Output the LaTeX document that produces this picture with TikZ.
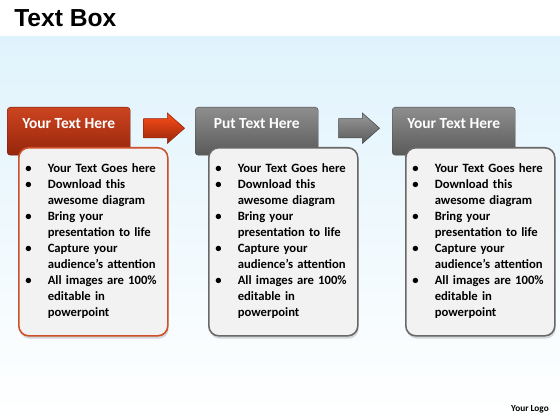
\documentclass[tikz,border=0pt]{standalone}
\usepackage{fontspec}
\setmainfont{Carlito}
\newfontfamily\titlefont{Liberation Sans}
\usepackage{enumitem}
\usetikzlibrary{positioning,shapes.arrows,shadows}

\definecolor{bgBlue}{HTML}{E0F3FC}
\definecolor{redTop}{HTML}{CC4420}
\definecolor{redBot}{HTML}{96260B}
\definecolor{redLine}{HTML}{CC5028}
\definecolor{greyTop}{HTML}{8E8E8E}
\definecolor{greyBot}{HTML}{5A5A5A}
\definecolor{greyLine}{HTML}{686868}
\definecolor{bodyFill}{HTML}{F2F2F2}

\setlist[itemize]{nosep, leftmargin=0.425cm, rightmargin=-0.3cm, labelsep=0.4cm, label=\textbullet}

% the same list goes in every box
\newcommand{\boxItems}{%
\begin{itemize}
\item Your Text Goes here
\item Download this\\ awesome diagram
\item Bring your\\ presentation to life
\item Capture your\\ audience’s attention
\item All images are 100\%\\ editable in\\ powerpoint
\end{itemize}\par\kern0.2cm}

\begin{document}
\begin{tikzpicture}[
		x=0.025cm, y=-0.025cm,
		every node/.style={inner sep=0pt},
		header/.style={anchor=north west, minimum width=3.075cm, minimum height=1.2cm,
				rounded corners=0.08cm, text=white, font=\fontsize{11}{12}\selectfont\bfseries,
				text height=0.2cm, text depth=0.35cm},
		redHeader/.style={header, top color=redTop, bottom color=redBot, draw=redBot!80!black, line width=0.3pt},
		greyHeader/.style={header, top color=greyTop, bottom color=greyBot, draw=greyBot!80!black, line width=0.3pt},
		body/.style={anchor=north west, text width=3.125cm, inner xsep=0.3cm, minimum height=4.7cm,
				rounded corners=0.25cm, fill=bodyFill, line width=1.1pt, align=left,
				font=\fontsize{9}{11.4}\selectfont\bfseries,
				drop shadow={shadow xshift=0.6pt, shadow yshift=-2pt, opacity=0.3}},
		redBody/.style={body, draw=redLine},
		greyBody/.style={body, draw=greyLine},
		blockArrow/.style={single arrow, minimum height=1.025cm, inner xsep=0pt, inner ysep=0.235cm,
				single arrow head extend=0.14cm, single arrow tip angle=83, line width=0.4pt},
		redArrow/.style={blockArrow, top color=red!55!orange!90!white, bottom color=redBot, draw=redBot},
		greyArrow/.style={blockArrow, top color=greyTop!90!white, bottom color=greyBot, draw=greyBot!80!black}
	]
	\useasboundingbox (0,0) rectangle (560,420);
	\fill[top color=bgBlue, bottom color=white] (0,37) rectangle (560,420);

	% title and logo
	\node[anchor=west, font=\titlefont\fontsize{17.5}{20}\selectfont\bfseries] (title) at (14,18) {Text Box};
	\node[anchor=east, font=\fontsize{6.6}{8}\selectfont\bfseries] (logo) at (549,409) {Your Logo};

	% headers
	\node[redHeader] (H1) at (7,107) {Your Text Here};
	\node[greyHeader] (H2) at (195,107) {Put Text Here};
	\node[greyHeader] (H3) at (392,107) {Your Text Here};

	% arrows between the headers
	\node[redArrow, left=0.25cm of H2, yshift=0.075cm] (A1) {};
	\node[greyArrow, left=0.3cm of H3, yshift=0.075cm] (A2) {};

	% text boxes
	\node[redBody] (B1) at (18,147) {\boxItems};
	\node[greyBody] (B2) at (208,147) {\boxItems};
	\node[greyBody] (B3) at (405,147) {\boxItems};
\end{tikzpicture}
\end{document}
